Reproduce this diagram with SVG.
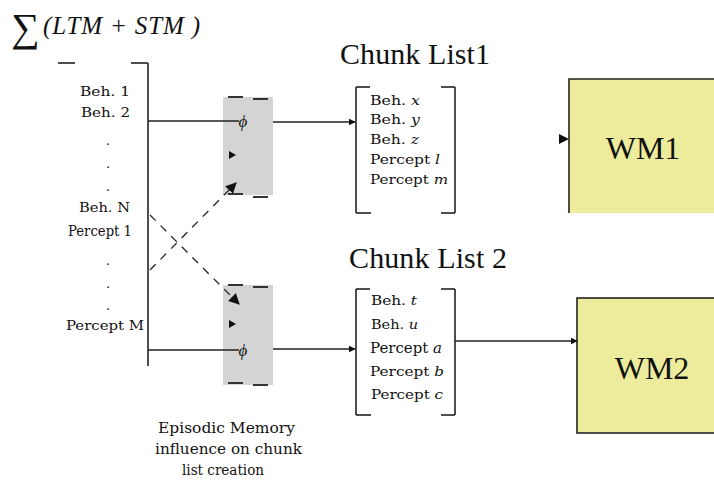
<svg xmlns="http://www.w3.org/2000/svg" width="714" height="485" viewBox="0 0 714 485">
  <style>
    .t { font-family: "Liberation Serif", "Times New Roman", serif; fill: #111; }
    .s { font-family: "DejaVu Serif", "Liberation Serif", serif; fill: #111; }
    .it { font-style: italic; }
    .ln { stroke: #222; stroke-width: 1.6; fill: none; }
    .dash { stroke: #222; stroke-width: 1.3; stroke-dasharray: 8 7; fill: none; }
    .tick { stroke: #333; stroke-width: 2; }
    .gate { fill: #d4d4d4; }
    .wm { fill: #ecec9c; }
  </style>
  <defs>
    <marker id="arr" viewBox="0 0 10 10" refX="9" refY="5" markerWidth="7" markerHeight="7" markerUnits="userSpaceOnUse" orient="auto">
      <path d="M0,0 L10,5 L0,10 z" fill="#111"/>
    </marker>
    <marker id="arrBig" viewBox="0 0 10 10" refX="9" refY="5" markerWidth="11" markerHeight="11" markerUnits="userSpaceOnUse" orient="auto">
      <path d="M0,0 L10,5 L0,10 z" fill="#111"/>
    </marker>
  </defs>

  <!-- header formula -->
  <g id="sum">
    <text class="t" x="11" y="41" font-size="40">∑</text>
    <text class="t it" x="43" y="34" font-size="25" textLength="157" lengthAdjust="spacing">(LTM + STM )</text>
  </g>

  <!-- memory items bracket -->
  <g id="memory">
    <line class="ln" x1="148" y1="63" x2="148" y2="366"/>
    <line class="ln" x1="131" y1="63" x2="148" y2="63"/>
    <line class="ln" x1="58" y1="63" x2="75" y2="63"/>
    <g class="s" font-size="13">
      <text x="80" y="96" textLength="50" lengthAdjust="spacingAndGlyphs">Beh. 1</text>
      <text x="81" y="117" textLength="49" lengthAdjust="spacingAndGlyphs">Beh. 2</text>
      <text x="106" y="145">.</text>
      <text x="106" y="168">.</text>
      <text x="106" y="191">.</text>
      <text x="79" y="212" textLength="51" lengthAdjust="spacingAndGlyphs">Beh. N</text>
      <text x="68" y="236" font-size="14" textLength="64" lengthAdjust="spacingAndGlyphs">Percept 1</text>
      <text x="106" y="265">.</text>
      <text x="106" y="288">.</text>
      <text x="106" y="310">.</text>
      <text x="66" y="330" textLength="78" lengthAdjust="spacingAndGlyphs">Percept M</text>
    </g>
  </g>

  <!-- episodic gates -->
  <g id="gate1">
    <rect class="gate" x="223" y="97" width="50" height="98"/>
    <line class="tick" x1="228" y1="97" x2="243" y2="97"/>
    <line class="tick" x1="253" y1="99" x2="268" y2="99"/>
    <line class="tick" x1="228" y1="194" x2="243" y2="194"/>
    <line class="tick" x1="253" y1="197" x2="268" y2="197"/>
    <text class="t it" x="243" y="127" font-size="17" text-anchor="middle">ϕ</text>
    <path d="M229,151 L236,155 L229,159 z" fill="#111"/>
  </g>
  <g id="gate2">
    <rect class="gate" x="223" y="285" width="50" height="100"/>
    <line class="tick" x1="228" y1="285" x2="243" y2="285"/>
    <line class="tick" x1="253" y1="287" x2="268" y2="287"/>
    <line class="tick" x1="228" y1="383" x2="243" y2="383"/>
    <line class="tick" x1="253" y1="385" x2="268" y2="385"/>
    <text class="t it" x="243" y="356" font-size="17" text-anchor="middle">ϕ</text>
    <path d="M229,320 L236,324 L229,328 z" fill="#111"/>
  </g>

  <!-- chunk list 1 -->
  <g id="chunk1">
    <text class="t" x="340" y="64" font-size="30" textLength="150" lengthAdjust="spacing">Chunk List1</text>
    <line class="ln" x1="356" y1="87" x2="356" y2="213"/>
    <line class="ln" x1="356" y1="87" x2="370" y2="87"/>
    <line class="ln" x1="356" y1="213" x2="371" y2="213"/>
    <line class="ln" x1="455" y1="87" x2="455" y2="213"/>
    <line class="ln" x1="441" y1="87" x2="455" y2="87"/>
    <line class="ln" x1="441" y1="213" x2="455" y2="213"/>
    <g class="s" font-size="13">
      <text x="370" y="105" textLength="50" lengthAdjust="spacingAndGlyphs">Beh. <tspan class="it">x</tspan></text>
      <text x="370" y="124" textLength="50" lengthAdjust="spacingAndGlyphs">Beh. <tspan class="it">y</tspan></text>
      <text x="370" y="144" textLength="49" lengthAdjust="spacingAndGlyphs">Beh. <tspan class="it">z</tspan></text>
      <text x="370" y="164" textLength="70" lengthAdjust="spacingAndGlyphs">Percept <tspan class="it">l</tspan></text>
      <text x="370" y="184" textLength="78" lengthAdjust="spacingAndGlyphs">Percept <tspan class="it">m</tspan></text>
    </g>
  </g>

  <!-- chunk list 2 -->
  <g id="chunk2">
    <text class="t" x="349" y="268" font-size="30" textLength="158" lengthAdjust="spacing">Chunk List 2</text>
    <line class="ln" x1="356" y1="289" x2="356" y2="415"/>
    <line class="ln" x1="356" y1="289" x2="370" y2="289"/>
    <line class="ln" x1="356" y1="415" x2="371" y2="415"/>
    <line class="ln" x1="455" y1="289" x2="455" y2="415"/>
    <line class="ln" x1="441" y1="289" x2="455" y2="289"/>
    <line class="ln" x1="441" y1="415" x2="455" y2="415"/>
    <g class="s" font-size="13">
      <text x="371" y="305" textLength="46" lengthAdjust="spacingAndGlyphs">Beh. <tspan class="it">t</tspan></text>
      <text x="371" y="329" textLength="47" lengthAdjust="spacingAndGlyphs">Beh. <tspan class="it">u</tspan></text>
      <text x="370" y="353" font-size="14" textLength="72" lengthAdjust="spacingAndGlyphs">Percept <tspan class="it">a</tspan></text>
      <text x="370" y="376" textLength="74" lengthAdjust="spacingAndGlyphs">Percept <tspan class="it">b</tspan></text>
      <text x="371" y="399" textLength="72" lengthAdjust="spacingAndGlyphs">Percept <tspan class="it">c</tspan></text>
    </g>
  </g>

  <!-- working memories -->
  <g id="wm1">
    <rect class="wm" x="569" y="79" width="150" height="134"/>
    <path class="ln" d="M569,213 L569,79 L714,79"/>
    <text class="t" x="643" y="159" font-size="32" text-anchor="middle">WM1</text>
  </g>
  <g id="wm2">
    <rect class="wm ln" x="577" y="298" width="150" height="135" style="fill:#ecec9c"/>
    <text class="t" x="652" y="379" font-size="32" text-anchor="middle">WM2</text>
  </g>

  <!-- caption -->
  <g id="caption" class="s" font-size="14">
    <text x="158" y="433" textLength="137" lengthAdjust="spacingAndGlyphs">Episodic Memory</text>
    <text x="155" y="454" textLength="147" lengthAdjust="spacingAndGlyphs">influence on chunk</text>
    <text x="182" y="475" textLength="82" lengthAdjust="spacingAndGlyphs">list creation</text>
  </g>

  <!-- connectors -->
  <g id="connectors">
    <line class="ln" x1="148" y1="121" x2="239" y2="121"/>
    <line class="ln" x1="273" y1="122" x2="355" y2="122" marker-end="url(#arr)"/>
    <line class="ln" x1="148" y1="350" x2="239" y2="350"/>
    <line class="ln" x1="273" y1="349" x2="355" y2="349" marker-end="url(#arr)"/>
    <line class="dash" x1="150" y1="215" x2="239" y2="304" marker-end="url(#arrBig)"/>
    <line class="dash" x1="150" y1="270" x2="236" y2="183" marker-end="url(#arrBig)"/>
    <line class="ln" x1="455" y1="341" x2="577" y2="341" marker-end="url(#arr)"/>
    <path d="M559,134 L569,139 L559,144 z" fill="#111"/>
  </g>
</svg>
